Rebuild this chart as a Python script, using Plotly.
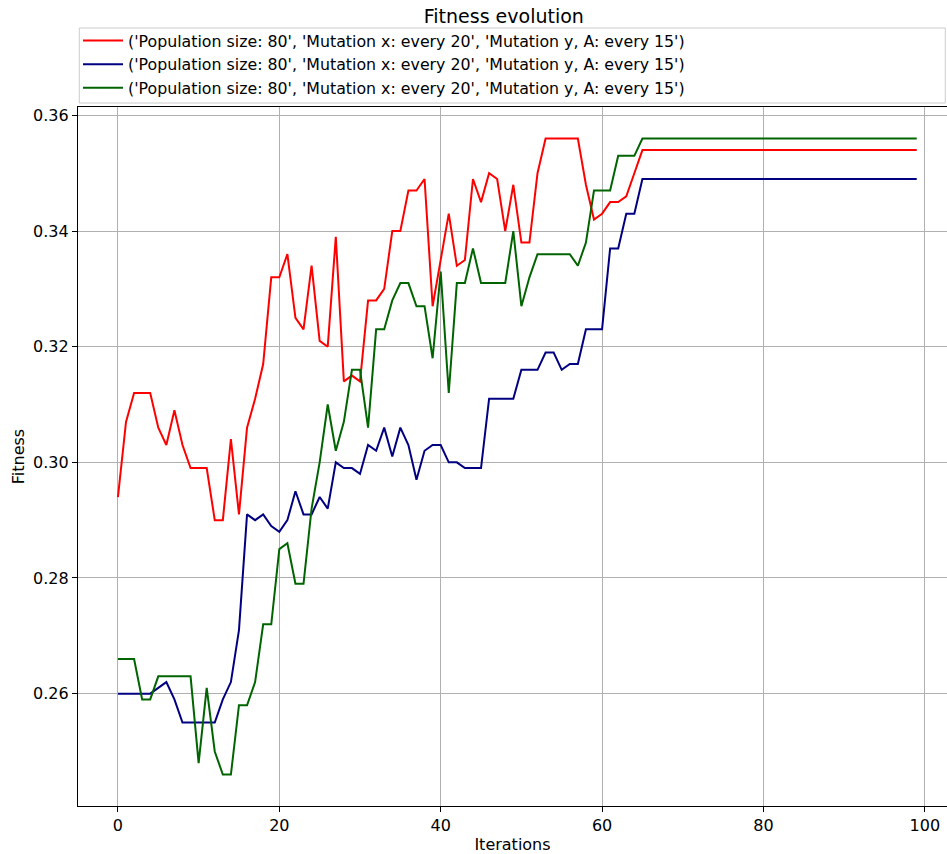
import plotly.graph_objects as go

iterations = list(range(100))

red_values = [0.294, 0.307, 0.312, 0.312, 0.312, 0.306, 0.303, 0.309, 0.303, 0.299,
              0.299, 0.299, 0.290, 0.290, 0.304, 0.291, 0.306, 0.311, 0.317, 0.332,
              0.332, 0.336, 0.325, 0.323, 0.334, 0.321, 0.320, 0.339, 0.314, 0.315,
              0.314, 0.328, 0.328, 0.330, 0.340, 0.340, 0.347, 0.347, 0.349, 0.327,
              0.335, 0.343, 0.334, 0.335, 0.349, 0.345, 0.350, 0.349, 0.340, 0.348,
              0.338, 0.338, 0.350, 0.356, 0.356, 0.356, 0.356, 0.356, 0.348, 0.342,
              0.343, 0.345, 0.345, 0.346, 0.350] + [0.354] * 35

navy_values = [0.260, 0.260, 0.260, 0.260, 0.260, 0.261, 0.262, 0.259, 0.255, 0.255,
               0.255, 0.255, 0.255, 0.259, 0.262, 0.271, 0.291, 0.290, 0.291, 0.289,
               0.288, 0.290, 0.295, 0.291, 0.291, 0.294, 0.292, 0.300, 0.299, 0.299,
               0.298, 0.303, 0.302, 0.306, 0.301, 0.306, 0.303, 0.297, 0.302, 0.303,
               0.303, 0.300, 0.300, 0.299, 0.299, 0.299, 0.311, 0.311, 0.311, 0.311,
               0.316, 0.316, 0.316, 0.319, 0.319, 0.316, 0.317, 0.317, 0.323, 0.323,
               0.323, 0.337, 0.337, 0.343, 0.343] + [0.349] * 35

green_values = [0.266, 0.266, 0.266, 0.259, 0.259, 0.263, 0.263, 0.263, 0.263, 0.263,
                0.248, 0.261, 0.250, 0.246, 0.246, 0.258, 0.258, 0.262, 0.272, 0.272,
                0.285, 0.286, 0.279, 0.279, 0.292, 0.300, 0.310, 0.302, 0.307, 0.316,
                0.316, 0.306, 0.323, 0.323, 0.328, 0.331, 0.331, 0.327, 0.327, 0.318,
                0.333, 0.312, 0.331, 0.331, 0.337, 0.331, 0.331, 0.331, 0.331, 0.340,
                0.327, 0.332, 0.336, 0.336, 0.336, 0.336, 0.336, 0.334, 0.338, 0.347,
                0.347, 0.347, 0.353, 0.353, 0.353] + [0.356] * 35

legend_label = "('Population size: 80', 'Mutation x: every 20', 'Mutation y, A: every 15')"
x_ticks = [0, 20, 40, 60, 80, 100]
y_ticks = [0.26, 0.28, 0.30, 0.32, 0.34, 0.36]

FONT = "DejaVu Sans"

fig = go.Figure()
for vals, color in [(red_values, "#ff0000"), (navy_values, "#000080"), (green_values, "#006400")]:
    fig.add_trace(go.Scatter(x=iterations, y=vals, mode="lines", name=legend_label,
                             line=dict(color=color, width=2)))

fig.update_layout(
    width=947, height=854,
    margin=dict(l=78, r=0, t=107, b=48),
    paper_bgcolor="white", plot_bgcolor="white",
    font=dict(family=FONT, size=15, color="black"),
    title=dict(text="Fitness evolution", x=0.49, xref="paper", xanchor="center",
               y=1 - 16 / 854, yanchor="middle", font=dict(family=FONT, size=19, color="black")),
    showlegend=True,
    legend=dict(x=0.0, y=1.119, xanchor="left", yanchor="top", bgcolor="rgba(0,0,0,0)",
                borderwidth=0, font=dict(family=FONT, size=15.8, color="black"),
                tracegroupgap=0, itemwidth=40),
    shapes=[dict(type="rect", xref="paper", yref="paper", x0=0.0015, x1=0.998,
                 y0=1.0057, y1=1.113, line=dict(color="#cccccc", width=1),
                 fillcolor="white", layer="below")],
)
fig.update_xaxes(range=[-4.95, 102.75], tickvals=x_ticks, ticks="outside", ticklen=5,
                 tickcolor="black", showline=True, linecolor="black", linewidth=1.2, mirror=True,
                 showgrid=True, gridcolor="#b0b0b0", gridwidth=1, zeroline=False,
                 title=dict(text="Iterations", font=dict(family=FONT, size=16), standoff=8),
                 tickfont=dict(family=FONT, size=16))
fig.update_yaxes(range=[0.24057, 0.36145], tickvals=y_ticks, tickformat=".2f", ticks="outside",
                 ticklen=5, tickcolor="black", showline=True, linecolor="black", linewidth=1.2,
                 mirror=False, showgrid=True, gridcolor="#b0b0b0", gridwidth=1, zeroline=False,
                 title=dict(text="Fitness", font=dict(family=FONT, size=16), standoff=4),
                 tickfont=dict(family=FONT, size=16))

fig.write_html("out.html", config={"displayModeBar": False},
               post_script="document.body.style.margin='0';document.body.style.overflow='hidden';")
